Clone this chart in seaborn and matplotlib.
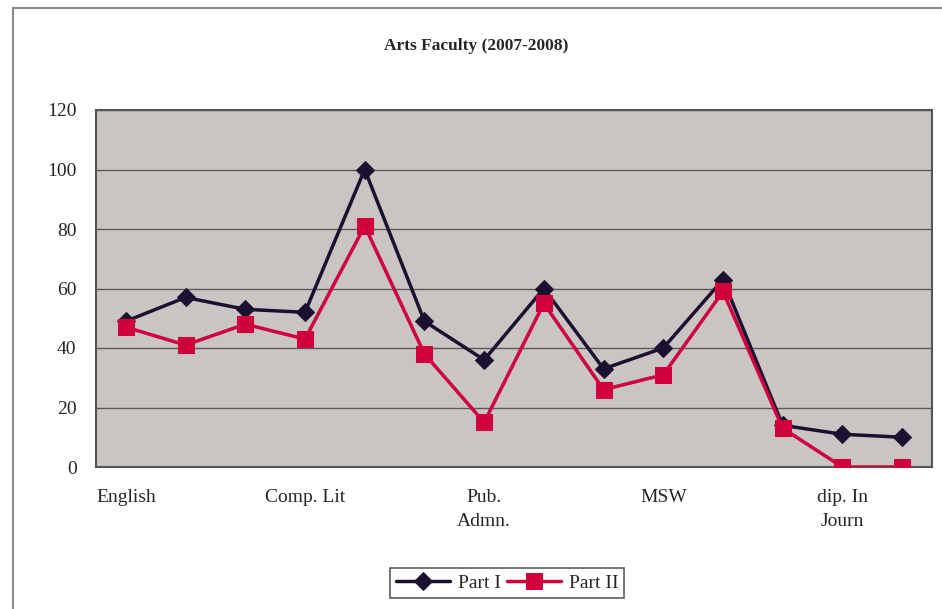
import numpy as np
import pandas as pd
import matplotlib
matplotlib.use("Agg")
import matplotlib.pyplot as plt
import seaborn as sns
from matplotlib.patches import Rectangle

# Data
tick_labels = ["English", "", "", "Comp. Lit", "", "", "Pub.\nAdmn.", "", "",
               "MSW", "", "", "dip. In\nJourn", ""]
part1 = [49, 57, 53, 52, 100, 49, 36, 60, 33, 40, 63, 14, 11, 10]
part2 = [47, 41, 48, 43, 81, 38, 15, 55, 26, 31, 59, 13, 0, 0]
y_ticks = [0, 20, 40, 60, 80, 100, 120]

idx = np.arange(len(part1))
df = pd.DataFrame({"idx": np.concatenate([idx, idx]),
                   "value": part1 + part2,
                   "series": ["Part I"] * len(part1) + ["Part II"] * len(part2)})

sns.set_style("white")
plt.rcParams["font.family"] = ["Liberation Serif", "DejaVu Serif"]

fig = plt.figure(figsize=(9.42, 6.09), dpi=100)
ax = fig.add_axes([96/942, 1 - 467/609, (932-96)/942, (467-110)/609])
ax.set_facecolor("#c9c5c2")

# outer chart border
fig.patches.append(Rectangle((13/942, -0.02), 1.0, 1 - 8/609 + 0.02,
                             transform=fig.transFigure, fill=False,
                             edgecolor="#8a8a8a", linewidth=1.5))

for y in y_ticks[1:]:
    ax.axhline(y, color="#5a5a5a", linewidth=1.0, zorder=1)

sns.lineplot(data=df[df.series == "Part I"], x="idx", y="value", ax=ax,
             color="#1c1030", marker="D", markersize=9, linewidth=2.5,
             markeredgecolor="#1c1030", label="Part I", zorder=3)
sns.lineplot(data=df[df.series == "Part II"], x="idx", y="value", ax=ax,
             color="#d0003c", marker="s", markersize=11, linewidth=2.5,
             markeredgecolor="#d0003c", label="Part II", zorder=4)

ax.set_xlim(-0.5, len(part1) - 0.5)
ax.set_ylim(0, 120)
ax.set_yticks(y_ticks)
ax.set_yticklabels([str(v) for v in y_ticks], fontsize=14)
ax.set_xticks(idx)
ax.set_xticklabels(tick_labels, fontsize=14, linespacing=1.5)
ax.set_xticks(np.arange(-0.5, len(part1)), minor=True)
ax.tick_params(axis="x", which="major", length=0, pad=16)
ax.tick_params(axis="x", which="minor", direction="out", length=6, color="#444")
ax.tick_params(axis="y", direction="out", length=6, color="#444", pad=8)
ax.set_xlabel("")
ax.set_ylabel("")
for s in ax.spines.values():
    s.set_color("#555555")
    s.set_linewidth(1.5)

fig.text(0.505, 1 - 46/609, "Arts Faculty (2007-2008)", ha="center", va="center",
         fontsize=12.5, fontweight="bold")

leg = ax.legend(loc="center", bbox_to_anchor=(507/942, 1 - 583/609),
                bbox_transform=fig.transFigure, ncol=2, frameon=True,
                fontsize=14, handlelength=2.8, columnspacing=0.3,
                handletextpad=0.4, borderpad=0.3, fancybox=False)
leg.get_frame().set_edgecolor("#333333")
leg.get_frame().set_linewidth(1.2)

fig.savefig("out.png", dpi=100)
